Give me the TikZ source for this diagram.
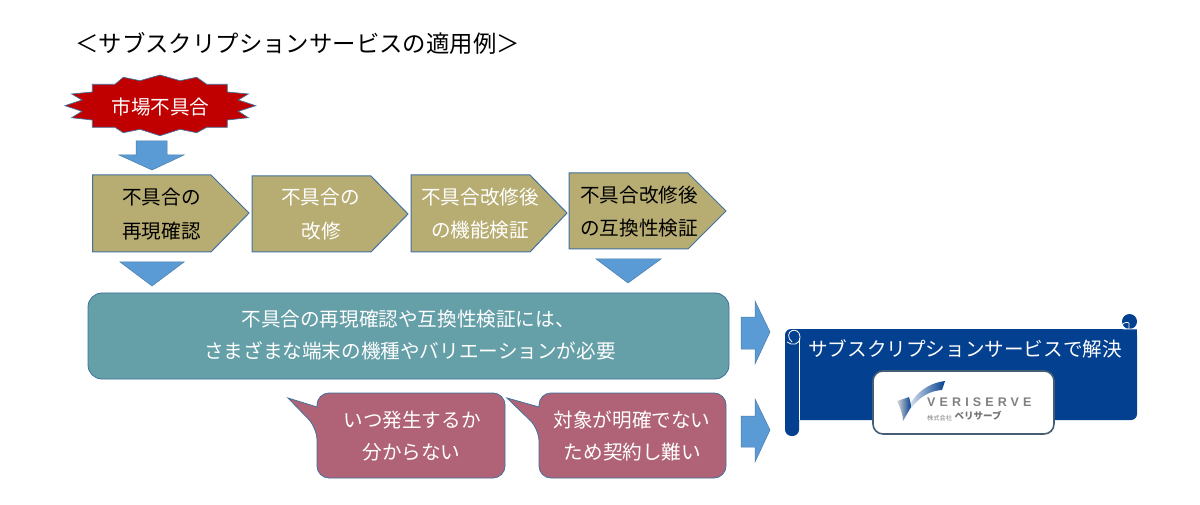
\documentclass[tikz,border=0pt]{standalone}
\usepackage{fontspec}
\setmainfont{Noto Sans CJK JP}
\newfontfamily\latinf{Liberation Sans}[LetterSpace=33]
\definecolor{arrowblue}{HTML}{5B9BD5}
\definecolor{edgeblue}{HTML}{41719C}
\definecolor{khaki}{HTML}{B7AC72}
\definecolor{teal}{HTML}{659FA7}
\definecolor{rose}{HTML}{B06376}
\definecolor{navy}{HTML}{03408F}
\definecolor{burst}{HTML}{C00000}
\tikzset{
  x=1pt,y=-1pt,
  blockarrow/.style={fill=arrowblue,draw=arrowblue!80!black,line width=.5pt},
  pent/.style={fill=khaki,draw=edgeblue,line width=1pt},
  lbl/.style={font=\fontsize{19.6}{19.6}\selectfont,inner sep=0pt,anchor=center},
  wlbl/.style={lbl,text=white},
  blbl/.style={lbl,text=black},
}
\begin{document}
\begin{tikzpicture}
\useasboundingbox (0,0) rectangle (1200,505);
\fill[white] (0,0) rectangle (1200,505);
\node[inner sep=0pt,font=\fontsize{23.4}{23.4}\selectfont] (title) at (297.5,43) {＜サブスクリプションサービスの適用例＞};
% burst
\draw[fill=burst,draw=edgeblue,line width=.7pt,miter limit=20] (92.3,84.3)--(92.3,92)--(71.7,94)--(82,100)--(65,105.7)--(82,111.3)--(71.7,117.7)--(92.3,120)--(92.3,127.3)--(115,127.3)--(123.3,132.7)--(140,129.3)--(160,135.7)--(180,129.3)--(196.7,132.7)--(206.7,127.3)--(227.3,127.3)--(227.3,120)--(248.3,117.7)--(238.3,111.3)--(255.7,105.7)--(238.3,100)--(248.3,94)--(227.3,92)--(227.3,84.3)--(206.7,84.3)--(196.7,77.3)--(180,80.7)--(160,75)--(140,80.7)--(123.3,77.3)--(115,84.3)--cycle;
\node[wlbl] (burstlabel) at (160.5,107) {市場不具合};
\draw[blockarrow] (136,141)--(167,141)--(167,155)--(184,155)--(152,170)--(119,155)--(136,155)--cycle;
% pentagons
\draw[pent] (92.5,175)--(211,175)--(249,213)--(211,252)--(92.5,252)--cycle;
\node[blbl] (p1a) at (161.5,197) {不具合の};
\node[blbl] (p1b) at (161.5,231) {再現確認};
\draw[pent] (252,176)--(371,176)--(408,214)--(371,252)--(252,252)--cycle;
\node[wlbl] (p2a) at (320.5,197) {不具合の};
\node[wlbl] (p2b) at (321,231) {改修};
\draw[pent] (411,175)--(530,175)--(567,213)--(530,252)--(411,252)--cycle;
\node[wlbl] (p3a) at (480,197) {不具合改修後};
\node[wlbl] (p3b) at (480,230) {の機能検証};
\draw[pent] (569,173)--(688,173)--(726,211)--(688,249)--(569,249)--cycle;
\node[blbl] (p4a) at (639,195) {不具合改修後};
\node[blbl] (p4b) at (639,228) {の互換性検証};
\draw[blockarrow] (120,262)--(184,262)--(152,286)--cycle;
\draw[blockarrow] (596,259)--(661,259)--(628,283)--cycle;
% teal
\draw[fill=teal,draw=edgeblue,line width=.8pt,rounded corners=14pt] (88,293) rectangle (729,379);
\node[wlbl] (t1) at (408,319) {不具合の再現確認や互換性検証には、};
\node[wlbl] (t2) at (410,351) {さまざまな端末の機種やバリエーションが必要};
% callouts
\draw[fill=rose,draw=edgeblue,line width=.8pt] (288,398)--(317,407)--(317,405) [rounded corners=12pt]--(317,393)--(505,393)--(505,478)--(317,478)--(317,428)[sharp corners]--cycle;
\draw[fill=rose,draw=edgeblue,line width=.8pt] (507,398)--(539,407)--(539,405) [rounded corners=12pt]--(539,393)--(726,393)--(726,478)--(539,478)--(539,429)[sharp corners]--cycle;
\node[wlbl] (c1a) at (412,420) {いつ発生するか};
\node[wlbl] (c1b) at (411.5,452) {分からない};
\node[wlbl] (c2a) at (632,420) {対象が明確でない};
\node[wlbl] (c2b) at (632.5,452) {ため契約し難い};
% right arrows
\draw[blockarrow] (741,317)--(755,317)--(755,301)--(770,332)--(755,364)--(755,349)--(741,349)--cycle;
\draw[blockarrow] (741,416)--(755,416)--(755,399)--(770,430)--(755,462)--(755,447)--(741,447)--cycle;
% scroll
\fill[navy,rounded corners=6pt] (785,329) rectangle (1137,420);
\fill[navy] (1122,329) rectangle (1137,340);
\fill[navy] (1129.5,321.5) circle[radius=7.5pt];
\fill[navy,rounded corners=6.5pt] (785,330) rectangle (799,436);
\draw[white,line width=.8pt] (799,338)--(799,420);
\draw[white,line width=.8pt] (787,342) .. controls (792,346) and (800,345) .. (800,337) .. controls (800,331) and (795,329.5) .. (792,330.5) .. controls (788,332) and (787,338) .. (792,342);
\draw[white,line width=.7pt] (1123,329)--(1137,329) (1129,329)--(1129,323) (1122,325) .. controls (1124,322) and (1128,322) .. (1129,323);
\node[wlbl] (sol) at (965,349) {サブスクリプションサービスで解決};
\draw[fill=white,draw=black!30!edgeblue!70!gray,line width=1.6pt,rounded corners=10pt] (873,371) rectangle (1054,434);
% logo
\shade[left color=white,middle color=navy!45!white,right color=navy] (903,421) .. controls (907,404) and (920,384) .. (945,381) -- (942,390) .. controls (925,391) and (912,403) .. (903,421) -- cycle;
\shade[left color=black!15!white,right color=navy] (897,401) -- (909,397) .. controls (911,403) and (911,408) .. (911,407) -- (903,421) .. controls (903,414) and (900,407) .. (897,401) -- cycle;
\node[inner sep=0pt,anchor=west,text=black!50,font=\latinf\bfseries\fontsize{12.5}{12.5}\selectfont] (vs) at (927,402) {VERISERVE};
\node[inner sep=0pt,anchor=west,text=black!50,font=\fontsize{6.2}{6.2}\selectfont] (kk) at (927,418) {株式会社};
\node[inner sep=0pt,anchor=west,text=black!55,font=\bfseries\fontsize{9.5}{9.5}\selectfont] (bs) at (954.5,415.5) {ベリサーブ};
\end{tikzpicture}
\end{document}
